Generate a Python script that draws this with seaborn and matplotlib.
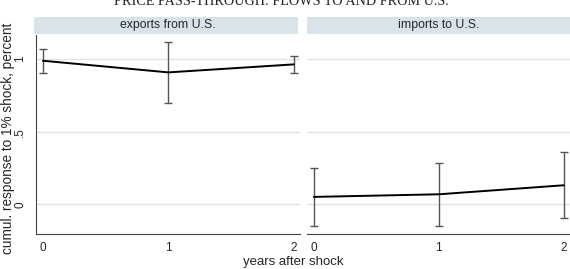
import matplotlib
matplotlib.use("Agg")
import matplotlib.pyplot as plt
import seaborn as sns
import pandas as pd

# values
years = [0, 1, 2]
panels = ["exports from U.S.", "imports to U.S."]
exp_est = [0.988, 0.908, 0.963]
exp_lo = [0.904, 0.700, 0.904]
exp_hi = [1.069, 1.114, 1.023]
imp_est = [0.052, 0.070, 0.132]
imp_lo = [-0.150, -0.150, -0.095]
imp_hi = [0.253, 0.287, 0.359]
yticks = [0, 0.5, 1]
ytick_labels = ["0", ".5", "1"]

df = pd.DataFrame({
    "year": years * 2,
    "panel": [panels[0]] * 3 + [panels[1]] * 3,
    "est": exp_est + imp_est,
    "lo": exp_lo + imp_lo,
    "hi": exp_hi + imp_hi,
})

sns.set_style("white")
plt.rcParams["font.family"] = ["Liberation Sans", "DejaVu Sans"]

fig = plt.figure(figsize=(5.7, 2.69), dpi=100)
ax_pos = [[36 / 570, 35 / 269, 264 / 570, 199 / 269],
          [307 / 570, 35 / 269, 263 / 570, 199 / 269]]
strip_color = "#d9e3ea"
axes = []
for i, name in enumerate(panels):
    l, b, w, h = ax_pos[i]
    ax = fig.add_axes([l, 1 - b - h, w, h])
    axes.append(ax)
    sub = df[df["panel"] == name]
    for yv in yticks:
        ax.axhline(yv, color="#e3e3e3", lw=1.0, zorder=0)
    ax.errorbar(sub["year"], sub["est"],
                yerr=[sub["est"] - sub["lo"], sub["hi"] - sub["est"]],
                fmt="none", ecolor="#555555", elinewidth=1.0, capsize=3, capthick=1.0)
    sns.lineplot(data=sub, x="year", y="est", ax=ax, color="black", lw=1.4)
    ax.set_xlim(-0.055, 2.05)
    ax.set_ylim(-0.203, 1.165)
    ax.set_xticks(years)
    ax.set_xticklabels([str(y) for y in years], fontsize=8.5)
    ax.set_xlabel("")
    ax.set_ylabel("")
    ax.tick_params(axis="x", direction="out", length=4, width=0.8, color="#444444", pad=2)
    for s in ["top", "right"]:
        ax.spines[s].set_visible(False)
    ax.spines["bottom"].set_color("#444444")
    ax.spines["bottom"].set_linewidth(0.8)
    if i == 0:
        ax.set_yticks(yticks)
        ax.set_yticklabels(ytick_labels, fontsize=8.5, rotation=90, va="center")
        ax.tick_params(axis="y", direction="out", length=4, width=0.8, color="#444444", pad=3)
        ax.spines["left"].set_color("#444444")
        ax.spines["left"].set_linewidth(0.8)
    else:
        ax.set_yticks([])
        ax.spines["left"].set_visible(False)
    # strip heading
    sy = 1 - 34 / 269
    fig.patches.append(plt.Rectangle((l - (2 / 570 if i == 0 else 0), sy), w, 17 / 269,
                                     transform=fig.transFigure, facecolor=strip_color,
                                     edgecolor="none", zorder=0))
    fig.text(l + w / 2, sy + 8.5 / 269, name, ha="center", va="center", fontsize=8.8)

# title sits partly above the canvas, as in the source image
fig.text(281 / 570, 1 - 5 / 269, "PRICE PASS-THROUGH: FLOWS TO AND FROM U.S.",
         ha="center", va="baseline", fontsize=10.2, family="Liberation Serif")
fig.text(293 / 570, 1 - 262 / 269, "years after shock", ha="center", va="center", fontsize=9.5)
fig.text(1 / 570, 1 - 138 / 269, "cumul. response to 1% shock, percent", ha="left",
         va="center", rotation=90, fontsize=9.8)

fig.savefig("out.png", dpi=100)
